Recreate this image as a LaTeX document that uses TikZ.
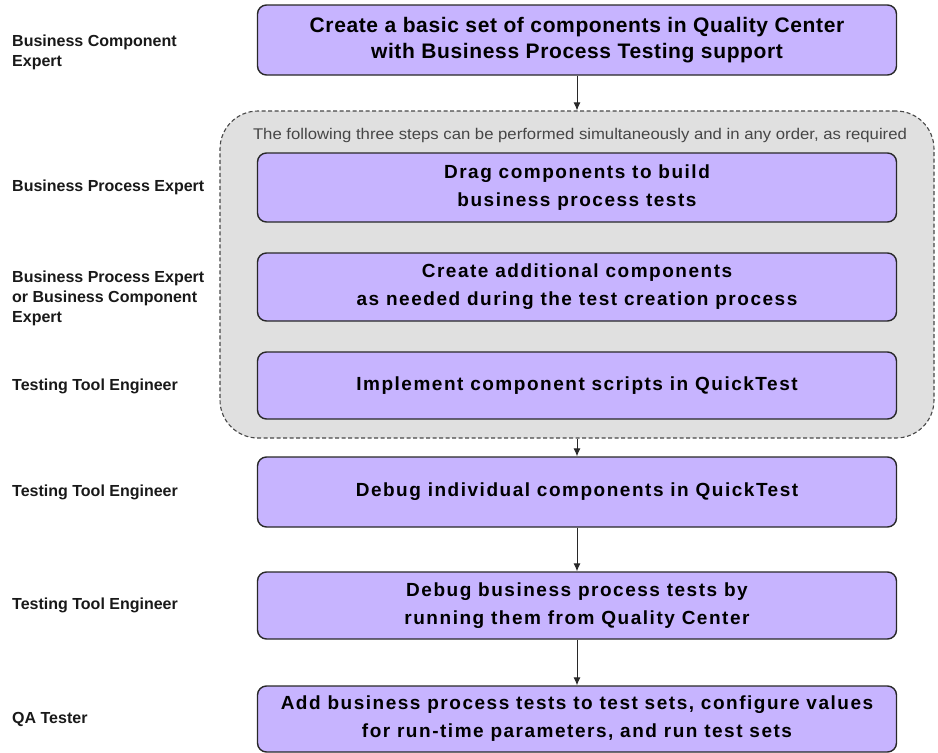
\documentclass[tikz,border=0pt]{standalone}
\usepackage{fontspec}
\setmainfont{Liberation Sans}
\newfontfamily\boxfont{Liberation Sans}[LetterSpace=8]
\newfontfamily\topfont{Liberation Sans}[LetterSpace=3]
\usetikzlibrary{arrows.meta}
\definecolor{boxfill}{RGB}{199,180,255}
\definecolor{groupfill}{RGB}{224,224,224}
\definecolor{edge}{RGB}{40,40,40}
\definecolor{captext}{RGB}{70,70,70}
\begin{document}
\begin{tikzpicture}[x=1pt,y=-1pt,
  stepbox/.style={draw=edge, line width=1.4pt, fill=boxfill, rounded corners=9pt,
    minimum width=639pt, minimum height=69pt, inner sep=0pt, align=center,
    font=\boxfont\bfseries\fontsize{19}{28}\selectfont, text=black},
  topbox/.style={stepbox, font=\topfont\bfseries\fontsize{21}{26}\selectfont},
  role/.style={anchor=west, align=left, inner sep=0pt, text=black!90,
    font=\bfseries\fontsize{16}{20}\selectfont},
  group/.style={draw=edge!85, dashed, dash pattern=on 4pt off 2.5pt, line width=1.1pt,
    fill=groupfill, rounded corners=38pt, minimum width=714pt, minimum height=327pt, inner sep=0pt},
  flow/.style={draw=edge, line width=1pt, -{Latex[length=8pt,width=7pt]}}]
\useasboundingbox (0,0) rectangle (938,753);

% group background
\node[group] (grp) at (577,274.5) {};
\node[inner sep=0pt, text=captext] (cap) at (580,135)
  {\resizebox{654pt}{\height}{\fontsize{15.5}{16}\selectfont The following three steps can be performed simultaneously and in any order, as required}};

% steps
\node[topbox, minimum height=70pt] (b1) at (577,40)
  {Create a basic set of components in Quality Center\\with Business Process Testing support};
\node[stepbox] (b2) at (577,187.5) {Drag components to build\\business process tests};
\node[stepbox, minimum height=68pt] (b3) at (577,287) {Create additional components\\as needed during the test creation process};
\node[stepbox, minimum height=67pt] (b4) at (577,385.5) {Implement component scripts in QuickTest};
\node[stepbox, minimum height=70pt] (b5) at (577,492) {Debug individual components in QuickTest};
\node[stepbox, minimum height=67pt] (b6) at (577,605.5) {Debug business process tests by\\running them from Quality Center};
\node[stepbox, minimum height=66pt] (b7) at (577,719) {Add business process tests to test sets, configure values\\for run-time parameters, and run test sets};

% connectors
\draw[flow] (b1.south) -- (grp.north);
\draw[flow] (grp.south) -- (b5.north);
\draw[flow] (b5.south) -- (b6.north);
\draw[flow] (b6.south) -- (b7.north);

% roles
\node[role] (r1) at (12,52) {Business Component\\Expert};
\node[role] (r2) at (12,187) {Business Process Expert};
\node[role] (r3) at (12,298) {Business Process Expert\\or Business Component\\Expert};
\node[role] (r4) at (12,386) {Testing Tool Engineer};
\node[role] (r5) at (12,492) {Testing Tool Engineer};
\node[role] (r6) at (12,605) {Testing Tool Engineer};
\node[role] (r7) at (12,719) {QA Tester};
\end{tikzpicture}
\end{document}
